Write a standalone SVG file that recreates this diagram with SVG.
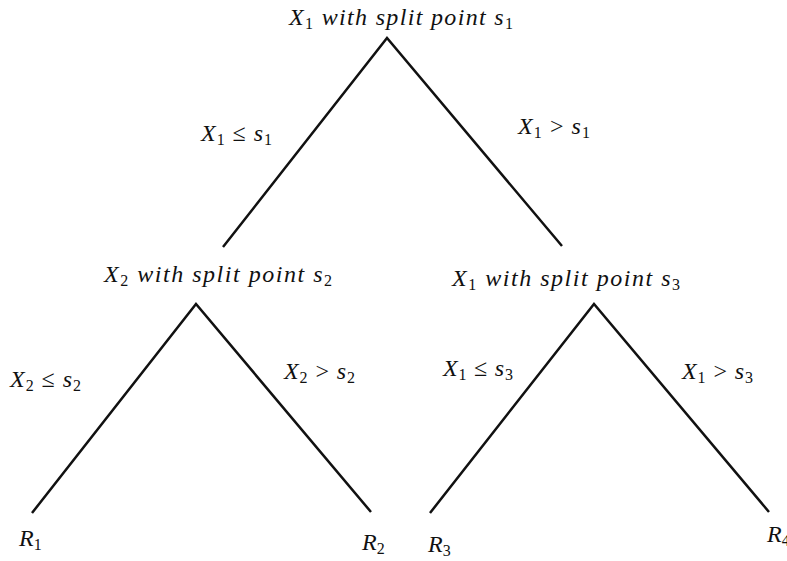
<svg xmlns="http://www.w3.org/2000/svg" width="787" height="561" viewBox="0 0 787 561">
<style>
.t{font-family:"Liberation Serif","DejaVu Serif",serif;font-style:italic;font-size:24px;fill:#111}
.s{font-size:16px;font-style:normal}
.o{font-style:normal}
.e{stroke:#111;stroke-width:2.5;fill:none}
</style>
<rect width="787" height="561" fill="#fff"/>
<g id="connectors">
<path class="e" d="M223,247 L387,38 L562,246"/>
<path class="e" d="M32,513 L196,304 L371,512"/>
<path class="e" d="M430,513 L594,304 L769,512"/>
</g>
<g id="root"><text class="t" x="289" y="25" textLength="224">X<tspan class="s" dy="4">1</tspan><tspan dy="-4"> with split point s</tspan><tspan class="s" dy="4">1</tspan></text></g>
<g id="lbl1"><text class="t" x="201" y="141" textLength="71">X<tspan class="s" dy="4">1</tspan><tspan class="o" dy="-4"> ≤ </tspan>s<tspan class="s" dy="4">1</tspan></text></g>
<g id="lbl2"><text class="t" x="518" y="134" textLength="72">X<tspan class="s" dy="4">1</tspan><tspan class="o" dy="-4"> &gt; </tspan>s<tspan class="s" dy="4">1</tspan></text></g>
<g id="node2"><text class="t" x="104" y="282" textLength="228">X<tspan class="s" dy="4">2</tspan><tspan dy="-4"> with split point s</tspan><tspan class="s" dy="4">2</tspan></text></g>
<g id="node3"><text class="t" x="452" y="286" textLength="228">X<tspan class="s" dy="4">1</tspan><tspan dy="-4"> with split point s</tspan><tspan class="s" dy="4">3</tspan></text></g>
<g id="lbl3"><text class="t" x="10" y="387" textLength="71">X<tspan class="s" dy="4">2</tspan><tspan class="o" dy="-4"> ≤ </tspan>s<tspan class="s" dy="4">2</tspan></text></g>
<g id="lbl4"><text class="t" x="284" y="379" textLength="71">X<tspan class="s" dy="4">2</tspan><tspan class="o" dy="-4"> &gt; </tspan>s<tspan class="s" dy="4">2</tspan></text></g>
<g id="lbl5"><text class="t" x="443" y="376" textLength="70">X<tspan class="s" dy="4">1</tspan><tspan class="o" dy="-4"> ≤ </tspan>s<tspan class="s" dy="4">3</tspan></text></g>
<g id="lbl6"><text class="t" x="682" y="379" textLength="71">X<tspan class="s" dy="4">1</tspan><tspan class="o" dy="-4"> &gt; </tspan>s<tspan class="s" dy="4">3</tspan></text></g>
<g id="R1"><text class="t" x="19" y="546">R<tspan class="s" dy="4">1</tspan></text></g>
<g id="R2"><text class="t" x="362" y="550">R<tspan class="s" dy="4">2</tspan></text></g>
<g id="R3"><text class="t" x="428" y="552">R<tspan class="s" dy="4">3</tspan></text></g>
<g id="R4"><text class="t" x="767" y="542">R<tspan class="s" dy="4">4</tspan></text></g>
</svg>
